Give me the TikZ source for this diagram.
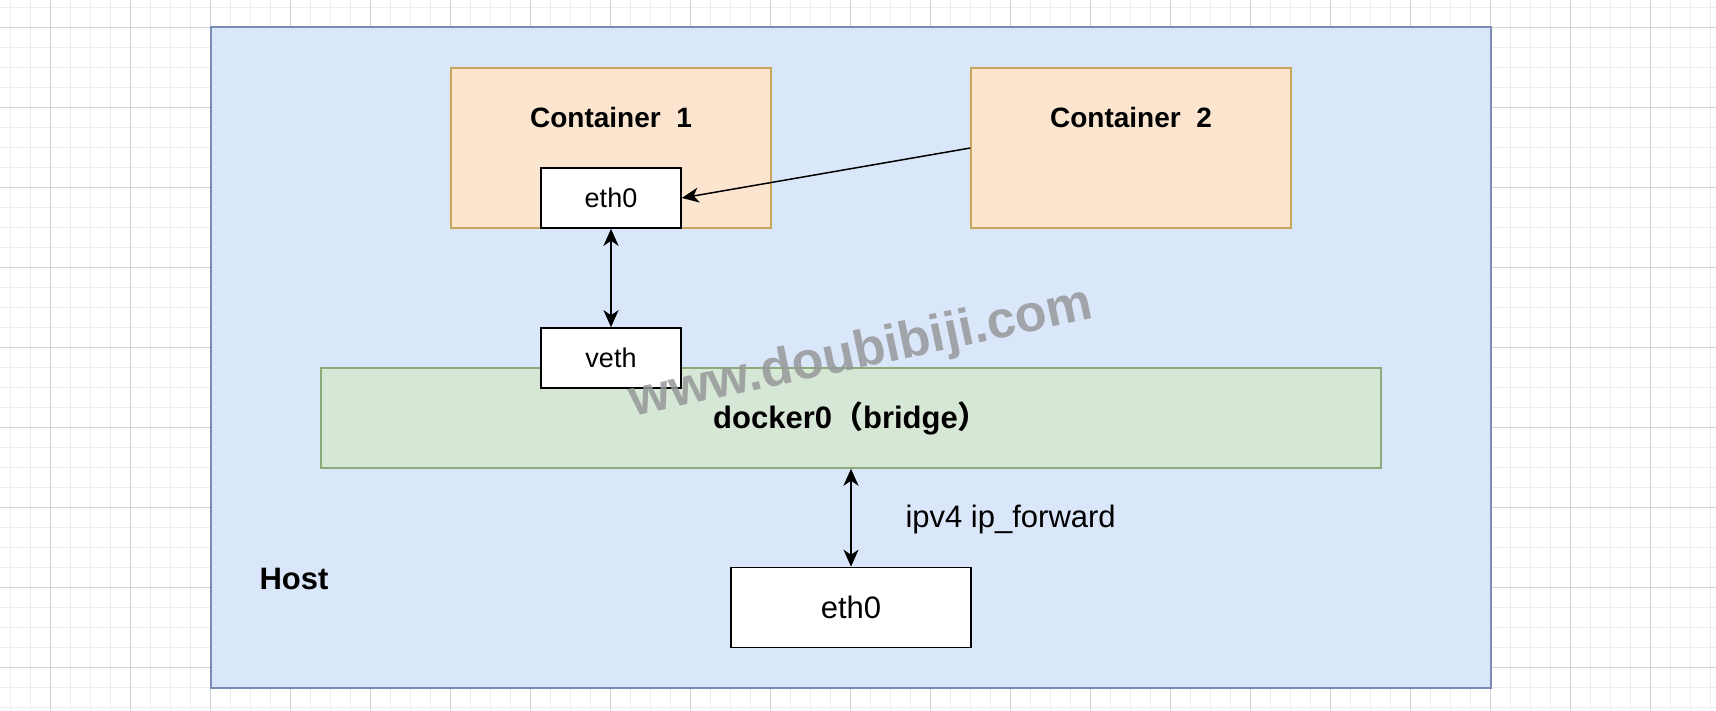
\documentclass[tikz,border=0pt]{standalone}
\usepackage{fontspec}
\setmainfont{Liberation Sans}
\newfontfamily\cjk{Noto Sans CJK SC}
\usepackage[rgb]{xcolor}
\usetikzlibrary{arrows.meta}
\definecolor{host_blue}{HTML}{DAE6F9}
\definecolor{host_edge}{HTML}{7A8CB4}
\definecolor{ctr_fill}{HTML}{FBE5CE}
\definecolor{ctr_edge}{HTML}{C9A45E}
\definecolor{br_fill}{HTML}{D7E7D5}
\definecolor{br_edge}{HTML}{8CAA7A}
\definecolor{grid_minor}{HTML}{EDEDED}
\definecolor{grid_major}{HTML}{D2D2D2}
\definecolor{wm_grey}{HTML}{969899}
\newcommand{\pxfont}[1]{\fontsize{#1}{#1}\selectfont}

\begin{document}
\begin{tikzpicture}[x=1pt, y=-1pt,
            tip/.tip={Stealth[length=17pt, width=15pt, inset=5pt]},
            box/.style={draw=black, line width=1.6pt, fill=white, inner sep=0pt, font=\pxfont{27}},
            ctr/.style={draw=ctr_edge, line width=1.4pt, fill=ctr_fill, minimum width=320pt, minimum height=160pt},
            title/.style={anchor=base, font=\pxfont{28}\bfseries},
            link/.style={line width=1.5pt, -tip},
            dlink/.style={line width=1.8pt, tip-tip}
        ]
            \useasboundingbox (0, 0) rectangle (1716, 710);
            \fill [white] (0, 0) rectangle (1716, 710);
            \foreach \gx in {10, 30, ..., 1710}
                \draw [grid_minor, line width=1pt] (\gx, 0) -- (\gx, 710);
            \foreach \gy in {7, 27, ..., 707}
                \draw [grid_minor, line width=1pt] (0, \gy) -- (1716, \gy);
            \foreach \gx in {50, 130, ..., 1690}
                \draw [grid_major, line width=1pt] (\gx, 0) -- (\gx, 710);
            \foreach \gy in {27, 107, ..., 667}
                \draw [grid_major, line width=1pt] (0, \gy) -- (1716, \gy);

            \node [draw=host_edge, line width=1.4pt, fill=host_blue, minimum width=1280pt, minimum height=661pt] (host) at (851, 357.5) {};
            \node [anchor=base west, font=\pxfont{31}\bfseries] (hostl) at (256, 589) {Host};

            \node [ctr] (c1) at (611, 148) {};
            \node [ctr] (c2) at (1131, 148) {};
            \node [title] (c1t) at (611, 127.5) {Container\ \ 1};
            \node [title] (c2t) at (1131, 127.5) {Container\ \ 2};
            \node [box, minimum width=140pt, minimum height=60pt] (e1) at (611, 198) {eth0};

            \node [draw=br_edge, line width=1.4pt, fill=br_fill, minimum width=1060pt, minimum height=100pt, font=\pxfont{31}\bfseries] (br) at (851, 418) {docker0{\cjk （}bridge{\cjk ）}};
            \node [box, minimum width=140pt, minimum height=60pt] (v1) at (611, 358) {veth};

            \node [box, minimum width=240pt, minimum height=80pt, font=\pxfont{31}] (e0) at (851, 607.5) {eth0};
            \node [anchor=base west, font=\pxfont{31}] (fwd) at (902, 527) {ipv4 ip\_forward};

            \draw [link] (c2.west) -- (e1.east);
            \draw [dlink] (e1.south) -- (v1.north);
            \draw [dlink] (br.south) -- (e0.north);

            \node [anchor=base west, rotate=12, text=wm_grey, opacity=0.85, font=\pxfont{52}\bfseries] (wm) at (630, 417) {www.doubibiji.com};
        \end{tikzpicture}
\end{document}
